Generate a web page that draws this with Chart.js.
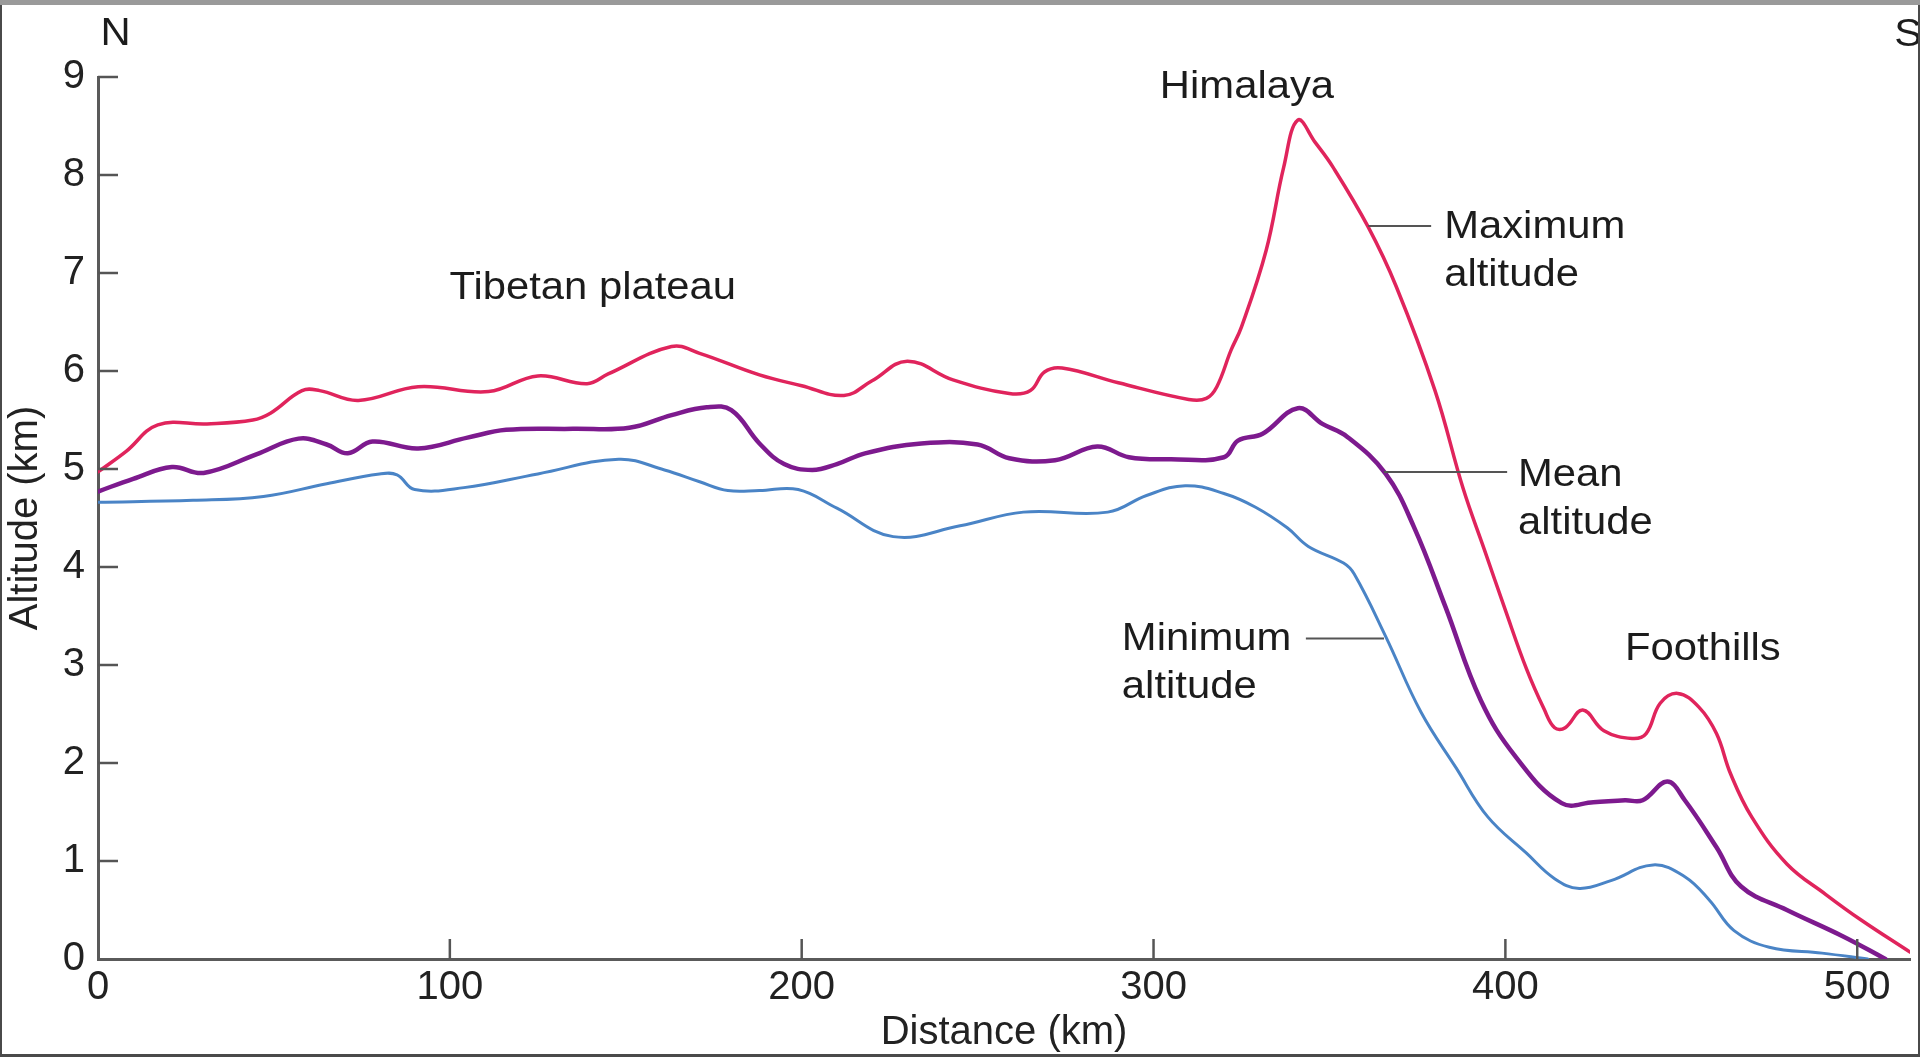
<!DOCTYPE html>
<html>
<head>
<meta charset="utf-8">
<title>Altitude profile</title>
<script src="https://cdn.jsdelivr.net/npm/chart.js@4.4.0/dist/chart.umd.min.js"></script>
<style>
  html, body { margin: 0; padding: 0; background: #fff; }
  #wrap { width: 1920px; height: 1057px; }
</style>
</head>
<body>
<div id="wrap"><canvas id="perfil" width="1920" height="1057"></canvas></div>
<script>
// Distance (km) and altitude (km)
const maxKm = [0, 8, 17, 31, 44, 49, 58, 63, 74, 91, 111, 125, 139, 145, 163, 171, 188, 200, 212, 220,
  230, 243, 259, 265, 269, 274, 290, 310, 315, 318, 322, 325, 332, 337, 341, 346, 351, 361, 369, 380,
  388, 394, 400, 406, 411, 414, 417, 422, 428, 436, 440, 444, 449, 455, 460, 464, 470, 480, 491, 501, 515];
const maxAlt = [4.97, 5.18, 5.45, 5.46, 5.50, 5.57, 5.80, 5.80, 5.70, 5.84, 5.79, 5.95, 5.87, 5.97, 6.25, 6.18, 5.96, 5.85, 5.75, 5.90,
  6.10, 5.91, 5.77, 5.80, 5.99, 6.03, 5.88, 5.71, 5.72, 5.84, 6.21, 6.45, 7.23, 8.08, 8.56, 8.33, 8.08, 7.47, 6.86, 5.80,
  4.80, 4.18, 3.56, 2.96, 2.55, 2.36, 2.36, 2.54, 2.33, 2.25, 2.30, 2.61, 2.71, 2.57, 2.30, 1.89, 1.45, 0.97, 0.66, 0.40, 0.07];

const meanKm = [0, 10, 21, 30, 45, 57, 65, 71, 78, 91, 105, 116, 135, 151, 163, 173, 180, 188, 195, 203,
  210, 218, 234, 250, 259, 272, 284, 293, 305, 320, 324, 331, 341, 348, 355, 366, 374, 383, 393, 403,
  416, 425, 434, 439, 446, 451, 460, 467, 480, 496, 508];
const meanAlt = [4.77, 4.90, 5.02, 4.96, 5.15, 5.31, 5.25, 5.16, 5.28, 5.21, 5.32, 5.40, 5.41, 5.42, 5.55, 5.63, 5.60, 5.26, 5.05, 4.99,
  5.05, 5.16, 5.26, 5.25, 5.11, 5.09, 5.23, 5.12, 5.10, 5.12, 5.29, 5.36, 5.62, 5.46, 5.33, 4.95, 4.41, 3.59, 2.64, 2.06,
  1.59, 1.60, 1.62, 1.62, 1.81, 1.62, 1.14, 0.74, 0.50, 0.23, 0.0];

const minKm = [0, 27, 47, 65, 80, 85, 90, 104, 125, 148, 161, 171, 179, 188, 199, 210, 226, 245, 263, 287,
  298, 309, 320, 329, 338, 344, 354, 357, 366, 376, 386, 395, 406, 414, 421, 430, 442, 451, 458, 465,
  475, 490, 503];
const minAlt = [4.66, 4.68, 4.72, 4.85, 4.95, 4.94, 4.79, 4.81, 4.95, 5.10, 4.99, 4.87, 4.78, 4.78, 4.79, 4.60, 4.31, 4.42, 4.56, 4.56,
  4.73, 4.83, 4.75, 4.61, 4.40, 4.21, 4.04, 3.93, 3.29, 2.52, 1.95, 1.45, 1.08, 0.82, 0.72, 0.80, 0.96, 0.84, 0.60, 0.29,
  0.12, 0.06, 0.0];

const xTicks = [0, 100, 200, 300, 400, 500];
const yTicks = [0, 1, 2, 3, 4, 5, 6, 7, 8, 9];

// Labels placed in data units (km, altitude)
const notes = [
  { text: 'N', km: 0.7, alt: 9.33 },
  { text: 'S', km: 510.5, alt: 9.32 },
  { text: 'Himalaya', km: 301.8, alt: 8.79 },
  { text: 'Tibetan plateau', km: 99.9, alt: 6.73 },
  { text: 'Maximum', km: 382.6, alt: 7.36 },
  { text: 'altitude', km: 382.6, alt: 6.87 },
  { text: 'Mean', km: 403.6, alt: 4.83 },
  { text: 'altitude', km: 403.6, alt: 4.34 },
  { text: 'Minimum', km: 291, alt: 3.15 },
  { text: 'altitude', km: 291, alt: 2.66 },
  { text: 'Foothills', km: 434, alt: 3.05 }
];
const leaders = [
  { from: 361, to: 378.9, alt: 7.48 },
  { from: 365.5, to: 400.5, alt: 4.97 },
  { from: 343.3, to: 365.5, alt: 3.27 }
];

const fuente = '"Liberation Sans", Arial, Helvetica, sans-serif';

const toPoints = (km, alt) => km.map((d, i) => ({ x: d, y: alt[i] }));

const marco = {
  id: 'marco',
  beforeDraw(chart) {
    const ctx = chart.ctx;
    ctx.save();
    ctx.fillStyle = '#fff';
    ctx.fillRect(0, 0, chart.width, chart.height);
    ctx.restore();
  },
  afterDatasetsDraw(chart) {
    const { ctx, scales: { x, y } } = chart;
    ctx.save();
    // leader lines
    ctx.strokeStyle = '#555';
    ctx.lineWidth = 2;
    leaders.forEach(l => {
      const py = y.getPixelForValue(l.alt);
      ctx.beginPath();
      ctx.moveTo(x.getPixelForValue(l.from), py);
      ctx.lineTo(x.getPixelForValue(l.to), py);
      ctx.stroke();
    });
    // annotation text, slightly widened like the original
    ctx.fillStyle = '#1c1c1c';
    ctx.font = '38px ' + fuente;
    ctx.textAlign = 'left';
    ctx.textBaseline = 'alphabetic';
    notes.forEach(n => {
      ctx.save();
      ctx.translate(x.getPixelForValue(n.km), y.getPixelForValue(n.alt));
      ctx.scale(1.1, 1);
      ctx.fillText(n.text, 0, 0);
      ctx.restore();
    });
    ctx.restore();
  },
  afterDraw(chart) {
    const { ctx, scales: { x, y } } = chart;
    ctx.save();
    // inward tick marks
    ctx.strokeStyle = '#555';
    ctx.lineWidth = 2.5;
    xTicks.slice(1).forEach(v => {
      const px = x.getPixelForValue(v);
      ctx.beginPath();
      ctx.moveTo(px, y.bottom);
      ctx.lineTo(px, y.bottom - 20);
      ctx.stroke();
    });
    yTicks.slice(1).forEach(v => {
      const py = y.getPixelForValue(v);
      ctx.beginPath();
      ctx.moveTo(x.left, py);
      ctx.lineTo(x.left + 20, py);
      ctx.stroke();
    });
    // picture frame
    ctx.fillStyle = '#9a9a9a';
    ctx.fillRect(0, 0, chart.width, 5);
    ctx.fillStyle = '#4a4a4a';
    ctx.fillRect(0, 5, 2, chart.height - 5);
    ctx.fillRect(chart.width - 2, 5, 2, chart.height - 5);
    ctx.fillRect(0, chart.height - 3, chart.width, 3);
    ctx.restore();
  }
};

window.onload = function () {
  const ctx = document.getElementById('perfil').getContext('2d');
  new Chart(ctx, {
    type: 'line',
    data: {
      datasets: [
        { label: 'Maximum altitude', data: toPoints(maxKm, maxAlt), borderColor: '#e0245c', borderWidth: 3.5 },
        { label: 'Mean altitude', data: toPoints(meanKm, meanAlt), borderColor: '#7d1a8e', borderWidth: 4.5 },
        { label: 'Minimum altitude', data: toPoints(minKm, minAlt), borderColor: '#4a84c6', borderWidth: 3 }
      ]
    },
    options: {
      responsive: false,
      animation: false,
      devicePixelRatio: 1,
      layout: { padding: { top: 77, right: 10, left: 0, bottom: 0 } },
      elements: {
        point: { radius: 0 },
        line: { tension: 0.4, borderCapStyle: 'round', borderJoinStyle: 'round', fill: false }
      },
      plugins: { legend: { display: false }, tooltip: { enabled: false } },
      scales: {
        x: {
          type: 'linear',
          min: 0,
          max: 515,
          afterBuildTicks: s => { s.ticks = xTicks.map(v => ({ value: v })); },
          afterFit: s => { s.height = 98; },
          grid: { drawOnChartArea: false, drawTicks: false },
          border: { color: '#5a5a5a', width: 3 },
          ticks: { padding: 5, color: '#222', font: { family: fuente, size: 40 } },
          title: { display: true, text: 'Distance (km)', color: '#222', padding: { top: 0, bottom: 0 }, font: { family: fuente, size: 40 } }
        },
        y: {
          type: 'linear',
          min: 0,
          max: 9,
          afterBuildTicks: s => { s.ticks = yTicks.map(v => ({ value: v })); },
          afterFit: s => { s.width = 98; },
          grid: { drawOnChartArea: false, drawTicks: false },
          border: { color: '#5a5a5a', width: 3 },
          ticks: { padding: 13, color: '#222', font: { family: fuente, size: 40 } },
          title: { display: true, text: 'Altitude (km)', color: '#222', padding: { top: 2, bottom: 0 }, font: { family: fuente, size: 40 } }
        }
      }
    },
    plugins: [marco]
  });
};
</script>
</body>
</html>
